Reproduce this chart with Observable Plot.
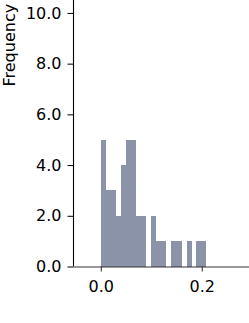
<!DOCTYPE html>
<html><head><meta charset="utf-8">
<script src="https://cdn.jsdelivr.net/npm/d3@7"></script>
<script src="https://cdn.jsdelivr.net/npm/@observablehq/plot@0.6"></script>
<style>html,body{margin:0;padding:0;background:#fff} svg{display:block}</style>
</head><body><div id="chart"></div>
<script>
const binStarts = [0.001, 0.011, 0.021, 0.031, 0.041, 0.050, 0.060, 0.070, 0.080, 0.090, 0.100, 0.110, 0.120, 0.130, 0.140, 0.150, 0.160, 0.170, 0.180, 0.189, 0.199];
const binEnds   = [0.011, 0.021, 0.031, 0.041, 0.050, 0.060, 0.070, 0.080, 0.090, 0.100, 0.110, 0.120, 0.130, 0.140, 0.150, 0.160, 0.170, 0.180, 0.189, 0.199, 0.209];
const counts    = [5, 3, 3, 2, 4, 5, 5, 2, 2, 0, 2, 1, 1, 0, 1, 1, 0, 1, 0, 1, 1];
const yTicks = [0, 2, 4, 6, 8, 10];
const xTicks = [0, 0.2];
const yLabel = "Frequency";

const bins = counts.map((c, i) => ({x1: binStarts[i], x2: binEnds[i], count: c})).filter(d => d.count > 0);
const xMin = -0.055, xMax = 0.2937;

const plot = Plot.plot({
  width: 249, height: 323,
  marginLeft: 73, marginRight: 0, marginTop: 0, marginBottom: 56.5,
  style: {fontFamily: "DejaVu Sans", fontSize: "16px", background: "white", color: "#000", overflow: "hidden"},
  x: {domain: [xMin, xMax]},
  y: {domain: [0, 10.51]},
  marks: [
    Plot.rectY(bins, {x1: "x1", x2: "x2", y: "count", fill: "#8b93a8", shapeRendering: "crispEdges"}),
    Plot.axisX({ticks: xTicks, tickFormat: d3.format(".1f"), tickSize: 5, tickPadding: 9, label: null, stroke: "#222"}),
    Plot.axisY({ticks: yTicks, tickFormat: d3.format(".1f"), tickSize: 5.5, tickPadding: 6.5, label: null, stroke: "#000"}),
    Plot.ruleX([xMin], {stroke: "#000", strokeWidth: 1.1}),
    Plot.ruleY([0], {stroke: "#333", strokeWidth: 1.1}),
    Plot.text([yLabel], {text: d => d, frameAnchor: "top-left", dx: -59, dy: 86, rotate: -90, textAnchor: "start", lineAnchor: "bottom", fontSize: 16, fill: "#000"})
  ]
});
document.getElementById("chart").appendChild(plot);
</script>
</body></html>
